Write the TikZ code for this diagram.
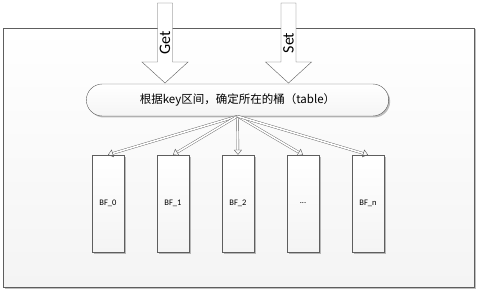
\documentclass[tikz,border=0pt]{standalone}
\usepackage{fontspec}
\setmainfont{Carlito}
\newfontfamily\cjk{Noto Sans CJK SC}
\usepackage{tikz}
\usetikzlibrary{arrows.meta,positioning,shapes.misc,shadows}
\definecolor{edge}{HTML}{5E5E5E}
\definecolor{paper}{HTML}{F4F4F4}
\tikzset{
  x=1pt,y=-1pt,
  every node/.style={font=\fontsize{8.5}{10}\selectfont,text=black},
  soft/.style={drop shadow={shadow xshift=1.5pt,shadow yshift=-1.5pt,opacity=0.25,fill=black}},
  frame/.style={draw=edge,top color=white,bottom color=paper,soft},
  bfbox/.style={draw=edge,top color=white,bottom color=paper,minimum width=32pt,minimum height=97pt,inner sep=0pt,soft},
  hub/.style={rounded rectangle,draw=edge,top color=white,bottom color=paper!80!gray!30,minimum width=309pt,minimum height=32pt,soft},
  bigarrow/.style={draw=edge,fill=white,line join=miter},
  fan/.style={draw=edge,double=white,double distance=1.6pt,-{Triangle[open,length=5pt,width=8pt]}},
}
\begin{document}
\begin{tikzpicture}
  \useasboundingbox (0,0) rectangle (478,291);
  % outer frame
  \path[frame] (3,28) rectangle (474,287);
  % Get / Set block arrows
  \foreach \x/\lbl/\nm in {165/Get/get,288.5/Set/set}{
    \draw[bigarrow] (\x-7.5,3) -- (\x+7.5,3) -- (\x+7.5,62) -- (\x+23,62)
      -- (\x,83) -- (\x-23,62) -- (\x-7.5,62) -- cycle;
    \node[rotate=90,font=\fontsize{16}{18}\selectfont] (\nm) at (\x,43) {\lbl};
  }
  % table lookup
  \node[hub,font=\cjk\fontsize{11.5}{14}\selectfont] (table) at (237.5,100) {根据key区间，确定所在的桶（table）};
  % buckets
  \foreach \i/\x/\lbl in {0/108/{BF\_0},1/173/{BF\_1},2/238/{BF\_2},3/303/{{...}},4/368/{BF\_n}}{
    \node[bfbox] (bf\i) at (\x,203.5) {\lbl};
  }
  \foreach \i in {0,1,2,3,4}
    \draw[fan] (table.south) -- (bf\i.north);
\end{tikzpicture}
\end{document}
